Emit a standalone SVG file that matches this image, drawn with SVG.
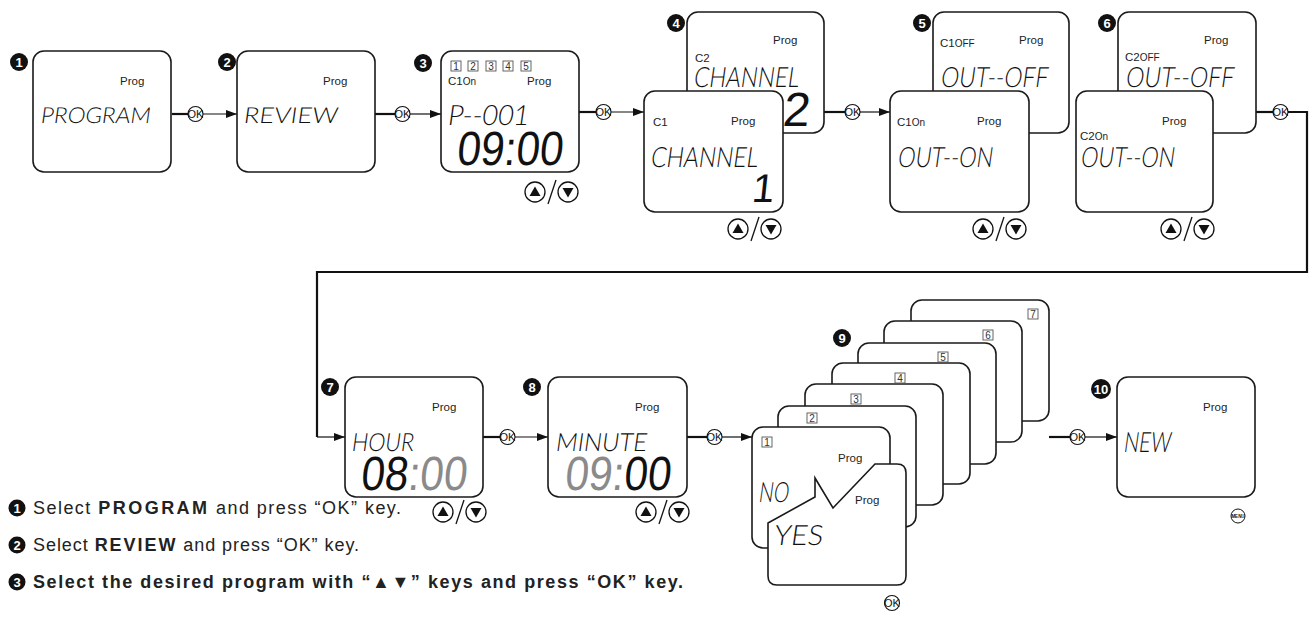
<svg xmlns="http://www.w3.org/2000/svg" width="1309" height="617" viewBox="0 0 1309 617">
<style>
.bx{fill:#fff;stroke:#1a1a1a;stroke-width:1.6}
.pg{font-family:"Liberation Sans",Arial,sans-serif;font-size:11.5px;fill:#222}
.lcd{font-family:Lato,"Liberation Sans",sans-serif;font-weight:300;fill:#111}
.big{font-family:"Liberation Sans",Arial,sans-serif;font-weight:400;fill:#111}
.gr{fill:#8a8a8a}
.bdc{fill:#111}
.bdt{font-family:"Liberation Sans",Arial,sans-serif;font-weight:bold;font-size:13px;fill:#fff;text-anchor:middle}
.ok circle{fill:#fff;stroke:#111;stroke-width:1.1}
.ok text{font-family:"Liberation Sans",Arial,sans-serif;font-size:11px;fill:#111;text-anchor:middle}
.th{fill:none;stroke:#111;stroke-width:2.2}
.tn{fill:none;stroke:#111;stroke-width:1.2;marker-end:url(#ah)}
.btn circle{fill:#fff;stroke:#111;stroke-width:1.3}
.btn path{fill:#111}
.sq rect{fill:#fff;stroke:#555;stroke-width:0.9}
.sq text{font-family:"Liberation Sans",Arial,sans-serif;font-size:10px;fill:#333;text-anchor:middle}
.desc{font-family:"Liberation Sans",Arial,sans-serif;font-size:18px;fill:#222}
</style>
<defs>
<marker id="ah" markerUnits="userSpaceOnUse" markerWidth="11" markerHeight="8" refX="11" refY="4" orient="auto"><path d="M0,0 L11,4 L0,8 Z" fill="#111"/></marker>
<g id="okb" class="ok"><circle r="7.5"/><text y="4">OK</text></g>
<g id="up" class="btn"><circle r="10"/><path d="M0,-5.5 L5.5,4 L-5.5,4 Z"/></g>
<g id="dn" class="btn"><circle r="10"/><path d="M0,5.5 L5.5,-4 L-5.5,-4 Z"/></g>
<g id="ud"><use href="#up"/><line x1="13" y1="12" x2="21" y2="-12" stroke="#111" stroke-width="1.3"/><use href="#dn" x="33"/></g>
</defs>

<g id="connectors">
<path class="th" d="M172,114 H188"/><use href="#okb" x="195.5" y="114"/><path class="tn" d="M203,114 H237"/>
<path class="th" d="M375,114 H395"/><use href="#okb" x="402.5" y="114"/><path class="tn" d="M410,114 H441"/>
<path class="th" d="M578,112 H596"/><use href="#okb" x="603.5" y="112"/><path class="tn" d="M611,112 H644"/>
<path class="th" d="M824,112 H845"/><use href="#okb" x="852.5" y="112"/><path class="tn" d="M860,112 H890"/>
<path class="th" d="M1256,112 H1273"/><use href="#okb" x="1280.5" y="112"/><path class="th" d="M1288,112 H1307 V272 H317 V437"/><path class="tn" d="M317,437 H345"/>
<path class="th" d="M483,437 H500"/><use href="#okb" x="507.5" y="437"/><path class="tn" d="M515,437 H548"/>
<path class="th" d="M687,437 H707"/><use href="#okb" x="714.5" y="437"/><path class="tn" d="M722,437 H752"/>
<path class="th" d="M1049,437 H1070"/><use href="#okb" x="1077.5" y="437"/><path class="tn" d="M1085,437 H1117"/>
</g>

<g id="node1">
<circle class="bdc" cx="19" cy="62" r="9"/><text class="bdt" x="19" y="67">1</text>
<rect class="bx" x="33" y="51" width="138" height="121" rx="11"/>
<text class="pg" x="120" y="85">Prog</text>
<text class="lcd" font-size="22" textLength="110" lengthAdjust="spacingAndGlyphs" transform="translate(40,123) skewX(-8)">PROGRAM</text>
</g>

<g id="node2">
<circle class="bdc" cx="227" cy="62" r="9"/><text class="bdt" x="227" y="67">2</text>
<rect class="bx" x="237" y="51" width="138" height="121" rx="11"/>
<text class="pg" x="323" y="85">Prog</text>
<text class="lcd" font-size="22" textLength="94" lengthAdjust="spacingAndGlyphs" transform="translate(243,123) skewX(-8)">REVIEW</text>
</g>

<g id="node3">
<circle class="bdc" cx="423" cy="63" r="9"/><text class="bdt" x="423" y="68">3</text>
<rect class="bx" x="441" y="51" width="138" height="121" rx="11"/>
<g class="sq">
<rect x="451" y="61" width="10" height="10"/><text x="456" y="70">1</text>
<rect x="468" y="61" width="10" height="10"/><text x="473" y="70">2</text>
<rect x="486" y="61" width="10" height="10"/><text x="491" y="70">3</text>
<rect x="503" y="61" width="10" height="10"/><text x="508" y="70">4</text>
<rect x="521" y="61" width="10" height="10"/><text x="526" y="70">5</text>
</g>
<text class="pg" x="448" y="85">C1<tspan font-size="10">On</tspan></text>
<text class="pg" x="527" y="85">Prog</text>
<text class="lcd" font-size="28" textLength="81" lengthAdjust="spacingAndGlyphs" transform="translate(447,125) skewX(-8)">P--001</text>
<text class="big" font-size="48" textLength="106" lengthAdjust="spacingAndGlyphs" transform="translate(456,165) skewX(-6)">09:00</text>
<use href="#ud" x="535" y="192"/>
</g>

<g id="node4">
<circle class="bdc" cx="676" cy="23" r="9"/><text class="bdt" x="676" y="28">4</text>
<rect class="bx" x="687" y="12" width="137" height="121" rx="11"/>
<text class="pg" x="773" y="44">Prog</text>
<text class="pg" x="695" y="62">C2</text>
<text class="lcd" font-size="28" textLength="105" lengthAdjust="spacingAndGlyphs" transform="translate(693,87) skewX(-8)">CHANNEL</text>
<text class="big" font-size="48" transform="translate(782,126) skewX(-6)">2</text>
<rect class="bx" x="644" y="91" width="139" height="121" rx="11"/>
<text class="pg" x="653" y="126">C1</text>
<text class="pg" x="731" y="125">Prog</text>
<text class="lcd" font-size="28" textLength="107" lengthAdjust="spacingAndGlyphs" transform="translate(650,167) skewX(-8)">CHANNEL</text>
<text class="big" font-size="40" transform="translate(751,202) skewX(-6)">1</text>
<use href="#ud" x="738" y="229"/>
</g>

<g id="node5">
<circle class="bdc" cx="922" cy="23" r="9"/><text class="bdt" x="922" y="28">5</text>
<rect class="bx" x="933" y="12" width="136" height="121" rx="11"/>
<text class="pg" x="940" y="47">C1<tspan font-size="10">OFF</tspan></text>
<text class="pg" x="1019" y="44">Prog</text>
<text class="lcd" font-size="28" textLength="107" lengthAdjust="spacingAndGlyphs" transform="translate(940,87) skewX(-8)">OUT--OFF</text>
<rect class="bx" x="890" y="91" width="139" height="121" rx="11"/>
<text class="pg" x="897" y="126">C1<tspan font-size="10">On</tspan></text>
<text class="pg" x="977" y="125">Prog</text>
<text class="lcd" font-size="28" textLength="95" lengthAdjust="spacingAndGlyphs" transform="translate(897,167) skewX(-8)">OUT--ON</text>
<use href="#ud" x="983" y="229"/>
</g>

<g id="node6">
<circle class="bdc" cx="1107" cy="23" r="9"/><text class="bdt" x="1107" y="28">6</text>
<rect class="bx" x="1118" y="12" width="138" height="121" rx="11"/>
<text class="pg" x="1204" y="44">Prog</text>
<text class="pg" x="1125" y="61">C2<tspan font-size="10">OFF</tspan></text>
<text class="lcd" font-size="28" textLength="108" lengthAdjust="spacingAndGlyphs" transform="translate(1125,87) skewX(-8)">OUT--OFF</text>
<rect class="bx" x="1076" y="91" width="137" height="121" rx="11"/>
<text class="pg" x="1162" y="125">Prog</text>
<text class="pg" x="1080" y="140">C2<tspan font-size="10">On</tspan></text>
<text class="lcd" font-size="28" textLength="94" lengthAdjust="spacingAndGlyphs" transform="translate(1080,167) skewX(-8)">OUT--ON</text>
<use href="#ud" x="1171" y="229"/>
</g>

<g id="node7">
<circle class="bdc" cx="330" cy="387" r="9"/><text class="bdt" x="330" y="392">7</text>
<rect class="bx" x="345" y="377" width="138" height="120" rx="11"/>
<text class="pg" x="432" y="411">Prog</text>
<text class="lcd" font-size="25" textLength="62" lengthAdjust="spacingAndGlyphs" transform="translate(351,451) skewX(-8)">HOUR</text>
<text class="big" font-size="48" textLength="106" lengthAdjust="spacingAndGlyphs" transform="translate(360,490) skewX(-6)">08<tspan class="gr">:00</tspan></text>
<use href="#ud" x="443" y="512"/>
</g>

<g id="node8">
<circle class="bdc" cx="532" cy="387" r="9"/><text class="bdt" x="532" y="392">8</text>
<rect class="bx" x="548" y="377" width="139" height="120" rx="11"/>
<text class="pg" x="635" y="411">Prog</text>
<text class="lcd" font-size="25" textLength="91" lengthAdjust="spacingAndGlyphs" transform="translate(555,451) skewX(-8)">MINUTE</text>
<text class="big" font-size="48" textLength="106" lengthAdjust="spacingAndGlyphs" transform="translate(564,490) skewX(-6)"><tspan class="gr">09:</tspan>00</text>
<use href="#ud" x="646" y="512"/>
</g>

<g id="node9">
<circle class="bdc" cx="842" cy="338" r="9"/><text class="bdt" x="842" y="343">9</text>
<rect class="bx" x="911" y="300" width="138" height="121" rx="11"/>
<rect class="bx" x="884" y="321" width="138" height="121" rx="11"/>
<rect class="bx" x="858" y="343" width="138" height="121" rx="11"/>
<rect class="bx" x="832" y="363" width="138" height="121" rx="11"/>
<rect class="bx" x="805" y="384" width="138" height="121" rx="11"/>
<rect class="bx" x="778" y="406" width="138" height="121" rx="11"/>
<rect class="bx" x="752" y="427" width="138" height="121" rx="11"/>
<g class="sq">
<rect x="1028" y="309" width="10" height="10"/><text x="1033" y="318">7</text>
<rect x="983" y="330" width="10" height="10"/><text x="988" y="339">6</text>
<rect x="938" y="352" width="10" height="10"/><text x="943" y="361">5</text>
<rect x="895" y="373" width="10" height="10"/><text x="900" y="382">4</text>
<rect x="851" y="394" width="10" height="10"/><text x="856" y="403">3</text>
<rect x="807" y="413" width="10" height="10"/><text x="812" y="422">2</text>
<rect x="762" y="437" width="10" height="10"/><text x="767" y="446">1</text>
</g>
<text class="pg" x="838" y="462">Prog</text>
<text class="lcd" font-size="28" textLength="30" lengthAdjust="spacingAndGlyphs" transform="translate(758,502) skewX(-8)">NO</text>
<path class="bx" d="M768,523 L815,497 L815,478 L833,508 L875,464 L897,464 Q906,464 906,473 L906,576 Q906,585 897,585 L777,585 Q768,585 768,576 Z"/>
<text class="pg" x="855" y="504">Prog</text>
<text class="lcd" font-size="28" textLength="49" lengthAdjust="spacingAndGlyphs" transform="translate(773,545) skewX(-8)">YES</text>
<use href="#okb" x="892" y="603"/>
</g>

<g id="node10">
<circle class="bdc" cx="1101" cy="389" r="10"/><text class="bdt" x="1101" y="394">10</text>
<rect class="bx" x="1117" y="377" width="138" height="120" rx="11"/>
<text class="pg" x="1203" y="411">Prog</text>
<text class="lcd" font-size="28" textLength="47" lengthAdjust="spacingAndGlyphs" transform="translate(1123,452) skewX(-8)">NEW</text>
<circle cx="1238" cy="516" r="7" fill="#fff" stroke="#111" stroke-width="1"/>
<text x="1238" y="518" font-family="Liberation Sans" font-weight="bold" font-size="4.5" fill="#111" text-anchor="middle">MENU</text>
</g>

<g id="notes">
<circle class="bdc" cx="17" cy="508" r="8.5"/><text class="bdt" x="17" y="512.5" font-size="12">1</text>
<text class="desc" x="33" y="514" textLength="368" lengthAdjust="spacing">Select <tspan font-weight="bold" letter-spacing="1">PROGRAM</tspan> and press “OK” key.</text>
<circle class="bdc" cx="17" cy="545" r="8.5"/><text class="bdt" x="17" y="549.5" font-size="12">2</text>
<text class="desc" x="33" y="551" textLength="326" lengthAdjust="spacing">Select <tspan font-weight="bold" letter-spacing="1">REVIEW</tspan> and press “OK” key.</text>
<circle class="bdc" cx="17" cy="582" r="8.5"/><text class="bdt" x="17" y="586.5" font-size="12">3</text>
<text class="desc" x="33" y="588" font-weight="bold" textLength="650" lengthAdjust="spacing">Select the desired program with “▲▼” keys and press “OK” key.</text>
</g>
</svg>
